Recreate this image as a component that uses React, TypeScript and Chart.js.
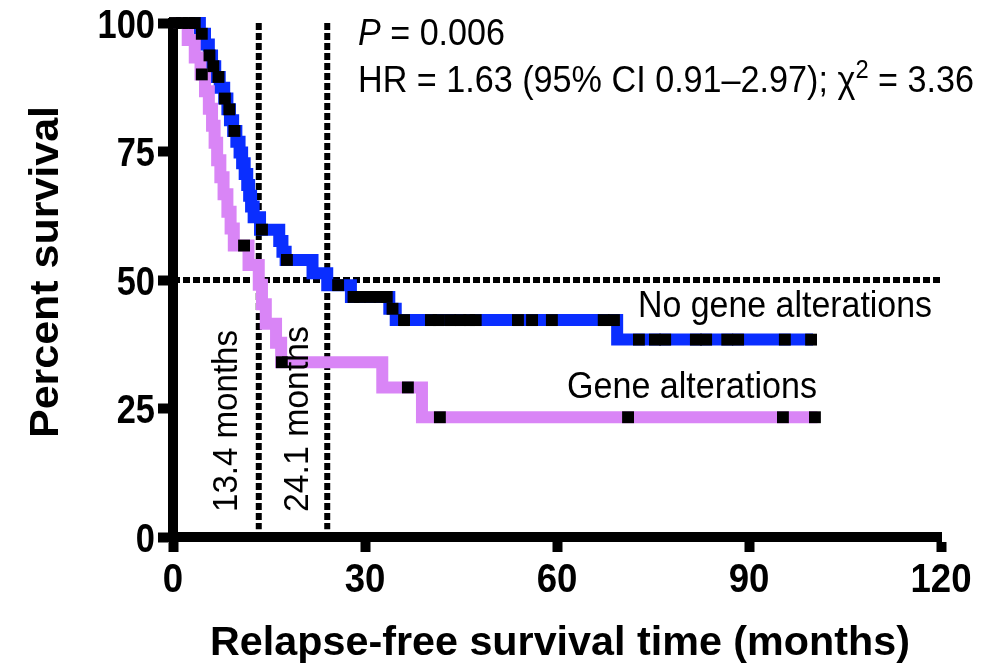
import React, { useEffect, useRef } from 'react';
import { Chart, registerables } from 'chart.js';

Chart.register(...registerables);

// Kaplan–Meier steps: [time in months, percent surviving after the event]
const noAlterationSteps: [number, number][] = [
  [0, 100], [4.2, 97.9], [5.0, 95.8], [5.6, 93.7], [6.1, 91.6], [6.6, 89.5],
  [7.3, 87.4], [8.0, 85.3], [8.5, 83.2], [8.9, 81.1], [9.4, 79.0], [9.9, 76.9],
  [10.4, 74.8], [10.8, 72.7], [11.2, 70.6], [11.6, 68.5], [11.9, 66.4],
  [12.2, 64.3], [12.6, 62.2], [13.6, 59.8], [16.6, 57.6], [17.1, 55.5],
  [17.6, 53.9], [21.8, 51.3], [24.1, 49.0], [27.8, 46.7], [33.8, 44.4],
  [34.8, 42.2], [69.4, 38.4], [100, 38.4],
];

const alterationSteps: [number, number][] = [
  [0, 100], [2.3, 96.7], [3.4, 93.3], [4.3, 90.0], [5.0, 86.7], [5.6, 83.3],
  [6.1, 80.0], [6.5, 76.7], [6.9, 73.3], [7.4, 70.0], [7.9, 66.7], [8.5, 63.3],
  [9.0, 60.0], [9.5, 56.7], [11.8, 52.9], [13.4, 49.1], [13.9, 45.3],
  [14.5, 41.5], [16.1, 37.8], [16.9, 34.0], [32.7, 29.1], [38.9, 23.3],
  [100.7, 23.3],
];

// Censored observations (months)
const noAlterationCensored: number[] = [
  0.3, 1.4, 2.5, 3.4, 4.5, 5.7, 6.3, 7.1, 8.1, 8.8, 9.6, 13.9, 17.8,
  25.8, 28.2, 29.2, 30.8, 32.3, 33.4, 34.3, 36.1,
  40.3, 41.5, 43.3, 44.9, 46.3, 47.3, 53.9, 56.1, 59.2, 67.3, 68.9,
  72.8, 75.3, 76.9, 81.7, 83.3, 86.6, 88.3, 95.6, 99.7,
];
const alterationCensored: number[] = [4.5, 11.1, 17.0, 36.7, 41.7, 71.1, 95.3, 100.3];

const MEDIAN_ALTERATION = 13.4;
const MEDIAN_NO_ALTERATION = 24.1;
const X_TICKS = [0, 30, 60, 90, 120];
const Y_TICKS = [0, 25, 50, 75, 100];
const P_VALUE = '0.006';
const HR_LABEL = 'HR = 1.63 (95% CI 0.91\u20132.97); ';
const CHI_SQUARE = '3.36';

const BLUE = '#0a2eff';
const PURPLE = '#d985f6';
const FAMILY = '"Liberation Sans", Arial, Helvetica, sans-serif';

function survivalAt(steps: [number, number][], t: number): number {
  let v = steps[0][1];
  for (const [x, y] of steps) {
    if (x <= t) v = y;
    else break;
  }
  return v;
}

type Seg = { text: string; font: string; dy?: number };

function drawRich(
  ctx: CanvasRenderingContext2D,
  segs: Seg[],
  x: number,
  y: number,
  opts: { align?: 'left' | 'center' | 'right'; width?: number; scaleX?: number; rotation?: number } = {}
) {
  ctx.save();
  ctx.translate(x, y);
  if (opts.rotation) ctx.rotate(opts.rotation);
  let total = 0;
  const widths = segs.map((s) => {
    ctx.font = s.font;
    const w = ctx.measureText(s.text).width;
    total += w;
    return w;
  });
  const sx = opts.width ? opts.width / total : opts.scaleX ?? 1;
  ctx.scale(sx, 1);
  const align = opts.align ?? 'left';
  let cx = align === 'left' ? 0 : align === 'center' ? -total / 2 : -total;
  ctx.fillStyle = '#000';
  ctx.textAlign = 'left';
  ctx.textBaseline = 'alphabetic';
  segs.forEach((s, i) => {
    ctx.font = s.font;
    ctx.fillText(s.text, cx, s.dy ?? 0);
    cx += widths[i];
  });
  ctx.restore();
}

const textPlugin = {
  id: 'survivalText',
  afterDraw(chart: Chart) {
    const ctx = chart.ctx;
    const xs = chart.scales.x;
    const ys = chart.scales.y;
    const tickFont = `bold 40px ${FAMILY}`;

    Y_TICKS.forEach((v) => {
      drawRich(ctx, [{ text: String(v), font: tickFont }], 155, ys.getPixelForValue(v) + 14.5, {
        align: 'right',
        scaleX: 0.86,
      });
    });
    X_TICKS.forEach((v) => {
      drawRich(ctx, [{ text: String(v), font: tickFont }], xs.getPixelForValue(v), 592, {
        align: 'center',
        scaleX: 0.915,
      });
    });

    drawRich(ctx, [{ text: 'Relapse-free survival time (months)', font: `bold 40px ${FAMILY}` }], 560, 655, {
      align: 'center',
      width: 700,
    });
    drawRich(ctx, [{ text: 'Percent survival', font: `bold 41px ${FAMILY}` }], 58, 272, {
      align: 'center',
      rotation: -Math.PI / 2,
      width: 332,
    });

    const reg = `36px ${FAMILY}`;
    drawRich(ctx, [
      { text: 'P', font: `italic 36px ${FAMILY}` },
      { text: ' = ' + P_VALUE, font: reg },
    ], 358, 45, { width: 147 });
    drawRich(ctx, [
      { text: HR_LABEL, font: reg },
      { text: '\u03c7', font: reg },
      { text: '2', font: `25px ${FAMILY}`, dy: -14 },
      { text: ' = ' + CHI_SQUARE, font: reg },
    ], 358, 92, { width: 616 });

    drawRich(ctx, [{ text: 'No gene alterations', font: reg }], 638, 317, { width: 294 });
    drawRich(ctx, [{ text: 'Gene alterations', font: reg }], 567, 398, { width: 250 });

    drawRich(ctx, [{ text: `${MEDIAN_ALTERATION} months`, font: `35px ${FAMILY}` }], 237, 512, {
      rotation: -Math.PI / 2,
      width: 182,
    });
    drawRich(ctx, [{ text: `${MEDIAN_NO_ALTERATION} months`, font: `35px ${FAMILY}` }], 308, 512, {
      rotation: -Math.PI / 2,
      width: 186,
    });
  },
};

const toPoints = (steps: [number, number][]) => steps.map(([x, y]) => ({ x, y }));
const censorPoints = (times: number[], steps: [number, number][]) =>
  times.map((t) => ({ x: t, y: survivalAt(steps, t) }));

const dotted = {
  borderColor: '#000',
  borderWidth: 6,
  borderDash: [7, 3],
  borderCapStyle: 'butt' as const,
  pointRadius: 0,
  fill: false,
  clip: false as const,
};

// Horizontal run at the current level, then the drop at the next event time
const curve = {
  borderWidth: 12,
  stepped: 'before' as const,
  borderCapStyle: 'butt' as const,
  borderJoinStyle: 'miter' as const,
  pointRadius: 0,
  fill: false,
  clip: false as const,
};

const censor = {
  showLine: false,
  pointStyle: 'rect' as const,
  pointRadius: 8.4,
  pointBackgroundColor: '#000',
  pointBorderWidth: 0,
  clip: false as const,
  order: 0,
};

export default function App() {
  const ref = useRef<HTMLCanvasElement | null>(null);

  useEffect(() => {
    if (!ref.current) return;
    const chart = new Chart(ref.current, {
      type: 'line',
      data: {
        datasets: [
          { ...censor, data: censorPoints(alterationCensored, alterationSteps) },
          { ...censor, data: censorPoints(noAlterationCensored, noAlterationSteps) },
          { ...curve, data: toPoints(alterationSteps), borderColor: PURPLE, order: 2 },
          { ...curve, data: toPoints(noAlterationSteps), borderColor: BLUE, order: 3 },
          { ...dotted, data: [{ x: 0, y: 50 }, { x: 120, y: 50 }], order: 5 },
          { ...dotted, data: [{ x: MEDIAN_ALTERATION, y: 100 }, { x: MEDIAN_ALTERATION, y: 1.5 }], order: 5 },
          { ...dotted, data: [{ x: MEDIAN_NO_ALTERATION, y: 100 }, { x: MEDIAN_NO_ALTERATION, y: 1.5 }], order: 5 },
        ] as any,
      },
      options: {
        animation: false,
        responsive: false,
        devicePixelRatio: 1,
        layout: { padding: { left: 158, right: 52, top: 23, bottom: 114 } },
        elements: { line: { tension: 0 } },
        plugins: { legend: { display: false }, tooltip: { enabled: false } },
        scales: {
          x: {
            type: 'linear',
            min: 0,
            max: 120,
            afterBuildTicks: (s: any) => {
              s.ticks = X_TICKS.map((v) => ({ value: v }));
            },
            ticks: { display: false },
            grid: {
              display: true,
              drawOnChartArea: false,
              drawTicks: true,
              tickLength: 15,
              tickWidth: 10,
              tickColor: '#000',
            },
            border: { display: true, width: 10, color: '#000' },
          },
          y: {
            type: 'linear',
            min: 0,
            max: 100,
            afterBuildTicks: (s: any) => {
              s.ticks = Y_TICKS.map((v) => ({ value: v }));
            },
            ticks: { display: false },
            grid: {
              display: true,
              drawOnChartArea: false,
              drawTicks: true,
              tickLength: 15,
              tickWidth: 10,
              tickColor: '#000',
            },
            border: { display: true, width: 10, color: '#000' },
          },
        },
      },
      plugins: [textPlugin as any],
    });
    return () => chart.destroy();
  }, []);

  return (
    <div style={{ position: 'fixed', left: 0, top: 0, width: 993, height: 666, background: '#fff' }}>
      <canvas ref={ref} width={993} height={666} style={{ display: 'block' }} />
    </div>
  );
}
